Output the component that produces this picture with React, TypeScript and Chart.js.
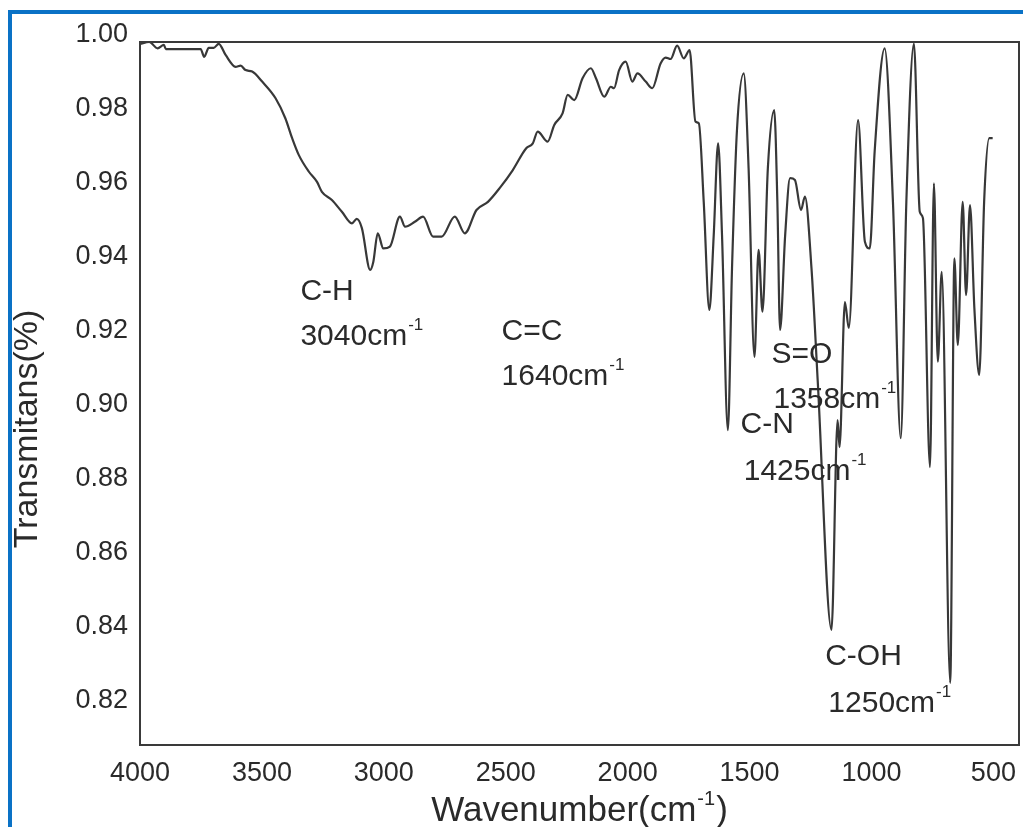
import React, { useEffect, useRef } from "react";
import { Chart, registerables } from "chart.js";

Chart.register(...registerables);

const wavenumbers = [
  4000, 3962, 3928, 3902, 3894, 3853, 3751, 3737, 3718, 3698, 3677, 3649, 3608, 3587, 3567, 3540,
  3499, 3444, 3404, 3376, 3349, 3308, 3274, 3254, 3213, 3172, 3131, 3111, 3090, 3056, 3043, 3025,
  3002, 2975, 2934, 2913, 2873, 2839, 2798, 2763, 2709, 2668, 2620, 2573, 2525, 2471, 2416, 2389,
  2369, 2328, 2301, 2267, 2246, 2219, 2185, 2151, 2130, 2096, 2069, 2056, 2035, 2008, 1981, 1960,
  1926, 1899, 1865, 1844, 1824, 1797, 1770, 1746, 1722, 1708, 1688, 1665, 1647, 1629, 1613, 1589,
  1572, 1552, 1524, 1504, 1480, 1463, 1447, 1425, 1399, 1386, 1375, 1354, 1334, 1314, 1289, 1273,
  1246, 1220, 1164, 1139, 1131, 1109, 1093, 1055, 1027, 1007, 987, 946, 912, 880, 857, 826,
  802, 789, 760, 744, 728, 712, 677, 660, 646, 626, 612, 596, 578, 558, 538, 517, 503,
];

const transmittance = [
  0.9995, 1.0, 0.9983, 0.9992, 0.9981, 0.9981, 0.9981, 0.996, 0.9984, 0.9984, 0.9995, 0.9965, 0.9933, 0.9936, 0.9924, 0.992,
  0.9893, 0.9848, 0.9794, 0.974, 0.9695, 0.965, 0.9622, 0.9595, 0.9573, 0.9541, 0.951, 0.9522, 0.9497, 0.9384, 0.9406, 0.9483,
  0.9442, 0.9447, 0.9528, 0.9501, 0.9514, 0.9528, 0.9474, 0.9474, 0.9528, 0.9483, 0.9546, 0.9568, 0.9605, 0.9654, 0.9713, 0.9726,
  0.9758, 0.9731, 0.9776, 0.9807, 0.9857, 0.9843, 0.9902, 0.9929, 0.9902, 0.9852, 0.9879, 0.9875, 0.9924, 0.9947, 0.9893, 0.9915,
  0.9893, 0.9875, 0.9942, 0.9958, 0.9954, 0.999, 0.9956, 0.9978, 0.9785, 0.978, 0.9568, 0.9276, 0.9478, 0.9726, 0.9478, 0.8951,
  0.9388, 0.9758, 0.9915, 0.9659, 0.9149, 0.9438, 0.9271, 0.9659, 0.9816, 0.9568, 0.9222, 0.9478, 0.9632, 0.9627, 0.9546, 0.9582,
  0.9388, 0.9078, 0.8411, 0.8978, 0.8905, 0.9297, 0.9227, 0.9789, 0.946, 0.9442, 0.9704, 0.9983, 0.9568, 0.8929, 0.9568, 0.9996,
  0.9541, 0.9524, 0.8851, 0.9618, 0.9136, 0.9379, 0.8268, 0.9415, 0.9181, 0.9568, 0.9316, 0.9559, 0.928, 0.91, 0.9568, 0.974, 0.974,
];

const xTicks = [4000, 3500, 3000, 2500, 2000, 1500, 1000, 500];
const yTicks = [0.82, 0.84, 0.86, 0.88, 0.9, 0.92, 0.94, 0.96, 0.98, 1.0];

const annotationTexts = ["C-H", "3040cm", "C=C", "1640cm", "S=O", "1358cm", "C-N", "1425cm", "C-OH", "1250cm"];
const annotationSuperscripts = ["", "-1", "", "-1", "", "-1", "", "-1", "", "-1"];
const annotationWavenumbers = [3342, 3342, 2517, 2517, 1410, 1402, 1537, 1524, 1190, 1177];
const annotationValues = [0.9303, 0.9181, 0.9195, 0.9073, 0.9132, 0.9011, 0.8943, 0.8816, 0.8316, 0.8189];

const xTitle = "Wavenumber(cm";
const xTitleSup = "-1";
const xTitleEnd = ")";
const yTitle = "Transmitans(%)";

const FONT = '"Liberation Sans", Arial, Helvetica, sans-serif';
const TEXT_COLOR = "#2a2a2a";

const decorPlugin = {
  id: "decor",
  afterDraw(chart: any) {
    const { ctx, chartArea: a, scales } = chart;
    const x = scales.x;
    const y = scales.y;
    ctx.save();
    // plot frame
    ctx.strokeStyle = "#3a3a3a";
    ctx.lineWidth = 2;
    ctx.strokeRect(a.left, a.top, a.right - a.left, a.bottom - a.top);

    // annotations
    ctx.fillStyle = TEXT_COLOR;
    ctx.textAlign = "left";
    ctx.textBaseline = "alphabetic";
    for (let i = 0; i < annotationTexts.length; i++) {
      const px = x.getPixelForValue(annotationWavenumbers[i]);
      const py = y.getPixelForValue(annotationValues[i]);
      ctx.font = `30px ${FONT}`;
      ctx.fillText(annotationTexts[i], px, py);
      if (annotationSuperscripts[i]) {
        const w = ctx.measureText(annotationTexts[i]).width;
        ctx.font = `17px ${FONT}`;
        ctx.fillText(annotationSuperscripts[i], px + w + 1, py - 15);
      }
    }

    // x title
    ctx.font = `35px ${FONT}`;
    const w1 = ctx.measureText(xTitle).width;
    const w3 = ctx.measureText(xTitleEnd).width;
    ctx.font = `20px ${FONT}`;
    const w2 = ctx.measureText(xTitleSup).width;
    const total = w1 + w2 + 2 + w3;
    const cx = (a.left + a.right) / 2;
    const sx = cx - total / 2;
    const base = 821;
    ctx.font = `35px ${FONT}`;
    ctx.fillText(xTitle, sx, base);
    ctx.font = `20px ${FONT}`;
    ctx.fillText(xTitleSup, sx + w1 + 1, base - 16);
    ctx.font = `35px ${FONT}`;
    ctx.fillText(xTitleEnd, sx + w1 + w2 + 2, base);

    // y title
    ctx.save();
    ctx.translate(37, 429);
    ctx.rotate(-Math.PI / 2);
    ctx.textAlign = "center";
    ctx.font = `34px ${FONT}`;
    ctx.fillText(yTitle, 0, 0);
    ctx.restore();

    ctx.restore();
  },
};

export default function App() {
  const canvasRef = useRef<HTMLCanvasElement | null>(null);

  useEffect(() => {
    const canvas = canvasRef.current;
    if (!canvas) return;
    const points = wavenumbers.map((w, i) => ({ x: w, y: transmittance[i] }));
    const chart = new Chart(canvas, {
      type: "line",
      data: {
        datasets: [
          {
            data: points,
            borderColor: "#383838",
            borderWidth: 2.2,
            pointRadius: 0,
            fill: false,
            cubicInterpolationMode: "monotone",
          },
        ],
      },
      options: {
        animation: false,
        responsive: false,
        maintainAspectRatio: false,
        layout: { padding: { left: 0, top: 42, right: 4, bottom: 0 } },
        plugins: { legend: { display: false }, tooltip: { enabled: false }, title: { display: false } },
        scales: {
          x: {
            type: "linear",
            reverse: true,
            min: 395,
            max: 4000,
            afterBuildTicks: (s: any) => {
              s.ticks = xTicks.map((v) => ({ value: v }));
            },
            afterFit: (s: any) => {
              s.height = 82;
              s.paddingLeft = 0;
              s.paddingRight = 0;
            },
            grid: { display: false, drawTicks: false },
            border: { display: false },
            ticks: {
              autoSkip: false,
              maxRotation: 0,
              padding: 12,
              color: TEXT_COLOR,
              font: { family: FONT, size: 27 },
              callback: (v: any) => String(v),
            },
          },
          y: {
            type: "linear",
            min: 0.81,
            max: 1.0,
            afterBuildTicks: (s: any) => {
              s.ticks = yTicks.map((v) => ({ value: v }));
            },
            afterFit: (s: any) => {
              s.width = 140;
              s.paddingTop = 0;
              s.paddingBottom = 0;
            },
            grid: { display: false, drawTicks: false },
            border: { display: false },
            ticks: {
              padding: 12,
              labelOffset: -7,
              color: TEXT_COLOR,
              font: { family: FONT, size: 27 },
              callback: (v: any) => Number(v).toFixed(2),
            },
          },
        },
      },
      plugins: [decorPlugin],
    });
    return () => chart.destroy();
  }, []);

  return (
    <div style={{ position: "absolute", left: 0, top: 0, width: 1023, height: 827, background: "#ffffff" }}>
      <div style={{ position: "absolute", left: 8, top: 10, width: 1015, height: 4, background: "#0a72c6" }} />
      <div style={{ position: "absolute", left: 8, top: 10, width: 4, height: 817, background: "#0a72c6" }} />
      <canvas ref={canvasRef} width={1023} height={827} style={{ position: "absolute", left: 0, top: 0, display: "block" }} />
    </div>
  );
}
